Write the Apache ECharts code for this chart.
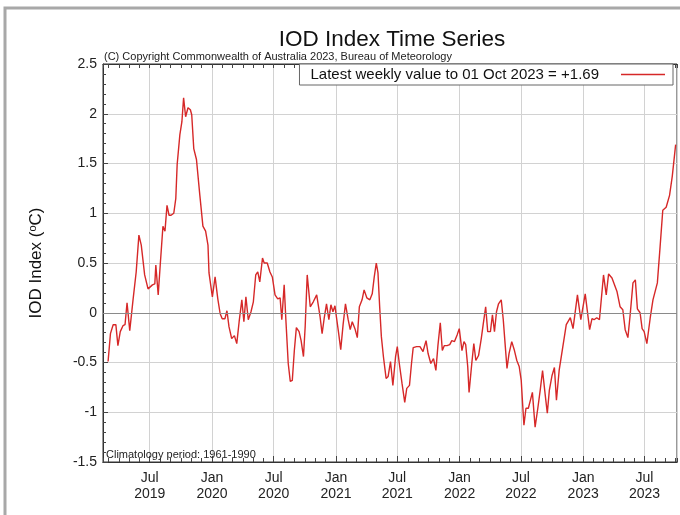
<!DOCTYPE html>
<html><head><meta charset="utf-8">
<script src="https://cdn.jsdelivr.net/npm/echarts@6/dist/echarts.min.js"></script>
<style>html,body{margin:0;padding:0;background:#fff}#c{width:680px;height:515px}</style>
</head><body><div id="c"></div>
<script>
// Weekly IOD index readings (date, value in degC)
const dates = [
  '2019-02-28','2019-03-07','2019-03-15','2019-03-23','2019-03-29','2019-04-05','2019-04-13','2019-04-19','2019-04-25',
  '2019-05-03','2019-05-13','2019-05-22','2019-05-30','2019-06-06','2019-06-16','2019-06-26','2019-07-01','2019-07-09',
  '2019-07-16','2019-07-19','2019-07-26','2019-08-01','2019-08-09','2019-08-15','2019-08-21','2019-08-27','2019-09-02',
  '2019-09-10','2019-09-16','2019-09-20','2019-09-28','2019-10-04','2019-10-09','2019-10-15','2019-10-22','2019-10-29',
  '2019-11-02','2019-11-08','2019-11-16','2019-11-26','2019-12-05','2019-12-13','2019-12-20','2019-12-23',
  '2020-01-02','2020-01-10','2020-01-18','2020-01-25','2020-01-31','2020-02-08','2020-02-14','2020-02-20','2020-02-28',
  '2020-03-07','2020-03-14','2020-03-21','2020-03-29','2020-04-04','2020-04-10','2020-04-17','2020-04-25','2020-05-02',
  '2020-05-09','2020-05-15','2020-05-21','2020-05-29','2020-06-03','2020-06-12','2020-06-20','2020-06-27','2020-07-05',
  '2020-07-13','2020-07-20','2020-07-25','2020-08-01','2020-08-06','2020-08-13','2020-08-19','2020-08-25','2020-08-31',
  '2020-09-06','2020-09-14','2020-09-20','2020-09-27','2020-10-02','2020-10-08','2020-10-17','2020-10-26','2020-11-05',
  '2020-11-15','2020-11-21','2020-11-27','2020-12-04','2020-12-11','2020-12-17','2020-12-23','2020-12-29',
  '2021-01-03','2021-01-09','2021-01-15','2021-01-22','2021-01-29','2021-02-06','2021-02-12','2021-02-18','2021-02-26',
  '2021-03-05','2021-03-11','2021-03-19','2021-03-25','2021-04-02','2021-04-11','2021-04-18','2021-04-24','2021-04-30',
  '2021-05-05','2021-05-10','2021-05-15','2021-05-21','2021-05-29','2021-06-04','2021-06-11','2021-06-18','2021-06-26',
  '2021-07-01','2021-07-07','2021-07-15','2021-07-23','2021-07-29','2021-08-06','2021-08-12','2021-08-17','2021-08-27',
  '2021-09-06','2021-09-15','2021-09-24','2021-09-30','2021-10-08','2021-10-16','2021-10-23','2021-10-29','2021-11-05',
  '2021-11-11','2021-11-17','2021-11-25','2021-12-03','2021-12-09','2021-12-17','2021-12-25','2021-12-31',
  '2022-01-08','2022-01-14','2022-01-19','2022-01-25','2022-01-29','2022-02-06','2022-02-12','2022-02-18','2022-02-26',
  '2022-03-06','2022-03-12','2022-03-19','2022-03-25','2022-04-02','2022-04-08','2022-04-14','2022-04-20','2022-04-26',
  '2022-05-04','2022-05-10','2022-05-16','2022-05-21','2022-05-27','2022-06-04','2022-06-12','2022-06-19','2022-06-26',
  '2022-07-02','2022-07-06','2022-07-10','2022-07-16','2022-07-23','2022-07-29','2022-08-04','2022-08-12','2022-08-20',
  '2022-08-27','2022-09-03','2022-09-11','2022-09-17','2022-09-23','2022-10-01','2022-10-08','2022-10-14','2022-10-22',
  '2022-11-12','2022-11-24','2022-12-02','2022-12-15','2022-12-25',
  '2023-01-07','2023-01-20','2023-01-27','2023-02-02','2023-02-10','2023-02-18','2023-03-02','2023-03-10','2023-03-17',
  '2023-03-27','2023-04-11','2023-04-20','2023-04-28','2023-05-05','2023-05-13','2023-05-20','2023-05-28','2023-06-04',
  '2023-06-10','2023-06-18','2023-06-24','2023-06-30','2023-07-08','2023-07-18','2023-07-26','2023-08-08','2023-08-16',
  '2023-08-24','2023-09-03','2023-09-13','2023-09-21','2023-10-01'
];
const iodValues = [
  -0.49,-0.21,-0.12,-0.12,-0.33,-0.19,-0.13,-0.12,0.10,
  -0.18,0.14,0.41,0.78,0.68,0.38,0.24,0.22,0.28,
  0.29,0.48,0.18,0.48,0.87,0.82,1.08,0.98,0.98,
  1.00,1.15,1.49,1.79,1.92,2.16,1.97,2.06,2.04,
  1.99,1.65,1.54,1.18,0.87,0.82,0.68,0.40,
  0.16,0.36,0.14,-0.01,-0.06,-0.06,0.02,-0.14,-0.26,
  -0.23,-0.31,-0.09,0.13,-0.09,0.16,-0.07,0.01,0.11,
  0.38,0.41,0.31,0.55,0.50,0.50,0.41,0.36,0.18,
  0.14,0.15,-0.07,0.28,-0.07,-0.51,-0.69,-0.68,-0.38,
  -0.15,-0.19,-0.28,-0.44,-0.14,0.38,0.06,0.11,0.18,
  -0.04,-0.21,-0.06,0.09,-0.07,0.08,0.01,0.07,
  -0.06,-0.21,-0.37,-0.12,0.09,-0.07,-0.17,-0.09,-0.16,
  -0.25,0.06,0.13,0.23,0.15,0.13,0.19,0.36,0.50,
  0.40,0.06,-0.24,-0.44,-0.66,-0.64,-0.49,-0.73,-0.44,
  -0.34,-0.51,-0.71,-0.90,-0.76,-0.73,-0.51,-0.35,-0.34,
  -0.34,-0.39,-0.28,-0.41,-0.51,-0.46,-0.58,-0.33,-0.10,
  -0.38,-0.33,-0.33,-0.32,-0.28,-0.29,-0.22,-0.16,
  -0.38,-0.29,-0.32,-0.54,-0.80,-0.51,-0.31,-0.48,-0.43,
  -0.26,-0.11,0.06,-0.19,-0.19,-0.02,-0.19,0.01,0.09,
  0.13,-0.07,-0.34,-0.56,-0.41,-0.29,-0.38,-0.48,-0.54,
  -0.68,-0.91,-1.13,-0.96,-0.96,-0.88,-0.80,-1.15,-0.96,
  -0.78,-0.58,-0.83,-1.01,-0.78,-0.63,-0.55,-0.88,-0.58,
  -0.12,-0.05,-0.16,0.18,-0.07,
  0.19,-0.17,-0.06,-0.07,-0.05,-0.07,0.38,0.18,0.39,
  0.35,0.21,0.06,0.03,-0.17,-0.25,-0.01,0.30,0.33,
  0.04,0.00,-0.16,-0.19,-0.31,-0.05,0.13,0.30,0.66,
  1.03,1.06,1.18,1.37,1.69
];
const legendText = 'Latest weekly value to 01 Oct 2023 = +1.69';
const titleText = 'IOD Index Time Series';
const copyrightText = '(C) Copyright Commonwealth of Australia 2023, Bureau of Meteorology';
const climText = 'Climatology period: 1961-1990';
const monthNames = ['Jan','Feb','Mar','Apr','May','Jun','Jul','Aug','Sep','Oct','Nov','Dec'];
const xMin = '2019-02-13';
const xMax = '2023-10-05';

const DAY = 86400000;
const FONT = '"Liberation Sans", Arial, Helvetica, sans-serif';
const chart = echarts.init(document.getElementById('c'));
const minorAxis = (pos) => ({
  type: 'time', min: xMin, max: xMax, position: pos,
  minInterval: 28 * DAY, maxInterval: 31 * DAY, splitNumber: 60,
  axisLine: { show: true, onZero: false, lineStyle: { color: '#333', width: 1 } },
  axisTick: { show: true, inside: true, length: 4, lineStyle: { color: '#444' } },
  axisLabel: { show: false }, splitLine: { show: false }
});
chart.setOption({
  backgroundColor: '#fff',
  animation: false,
  textStyle: { fontFamily: FONT },
  grid: { left: 103, right: 3, top: 64, bottom: 53, show: true, borderColor: '#333', borderWidth: 1, containLabel: false },
  legend: {
    data: [legendText], right: 7, top: 64, align: 'right', icon: 'rect',
    itemWidth: 44, itemHeight: 1.5, padding: [3, 8, 3, 11],
    borderColor: '#666', borderWidth: 1, backgroundColor: '#fff',
    textStyle: { fontSize: 15, color: '#111', padding: [0, 17, 0, 0], fontFamily: FONT }
  },
  graphic: [
    { type: 'rect', shape: { x: 5, y: 8, width: 720, height: 560 }, style: { fill: 'none', stroke: '#a8a8a8', lineWidth: 3 }, silent: true },
    { type: 'text', x: 392, y: 40, style: { text: titleText, font: '22.5px ' + FONT, fill: '#111', align: 'center', verticalAlign: 'middle' } },
    { type: 'text', x: 104, y: 57, style: { text: copyrightText, font: '11px ' + FONT, fill: '#222', align: 'left', verticalAlign: 'middle' } },
    { type: 'text', x: 106, y: 455, style: { text: climText, font: '11px ' + FONT, fill: '#222', align: 'left', verticalAlign: 'middle' }, z: 10 }
  ],
  xAxis: [
    {
      type: 'time', min: xMin, max: xMax,
      minInterval: 180 * DAY, maxInterval: 185 * DAY, splitNumber: 9,
      axisLine: { show: true, onZero: false, lineStyle: { color: '#333', width: 1 } },
      axisTick: { show: true, inside: true, length: 6, lineStyle: { color: '#444' } },
      splitLine: { show: true, lineStyle: { color: '#d2d2d2', width: 1 } },
      axisLabel: {
        fontSize: 14, color: '#222', lineHeight: 16, margin: 8,
        showMinLabel: false, showMaxLabel: false, hideOverlap: false,
        formatter: (v) => { const d = new Date(v); return monthNames[d.getMonth()] + '\n' + d.getFullYear(); }
      }
    },
    minorAxis('bottom'),
    minorAxis('top')
  ],
  yAxis: {
    type: 'value', min: -1.5, max: 2.5, interval: 0.5,
    axisLine: { show: true, onZero: false, lineStyle: { color: '#333', width: 1 } },
    axisTick: { show: true, inside: true, length: 5, lineStyle: { color: '#444' } },
    minorTick: { show: true, splitNumber: 5, length: 3, lineStyle: { color: '#444' } },
    splitLine: { show: true, lineStyle: { color: '#d2d2d2', width: 1 } },
    axisLabel: { fontSize: 14, color: '#222', margin: 6 },
    name: '{t|IOD Index (}{s|o}{t|C)}', nameLocation: 'middle', nameGap: 57,
    nameTextStyle: { rich: { t: { fontSize: 17, color: '#111' }, s: { fontSize: 11, color: '#111', verticalAlign: 'top', padding: [0, 0, 8, 0] } } }
  },
  series: [{
    name: legendText, type: 'line', xAxisIndex: 0,
    data: dates.map((d, i) => [d, iodValues[i]]),
    symbol: 'none', showSymbol: false,
    lineStyle: { color: '#d62828', width: 1.4 }, itemStyle: { color: '#d62828' },
    markLine: { silent: true, symbol: 'none', label: { show: false }, lineStyle: { color: '#8a8a8a', type: 'solid', width: 1.2 }, data: [{ yAxis: 0 }] },
    z: 3
  }]
});
</script></body></html>
